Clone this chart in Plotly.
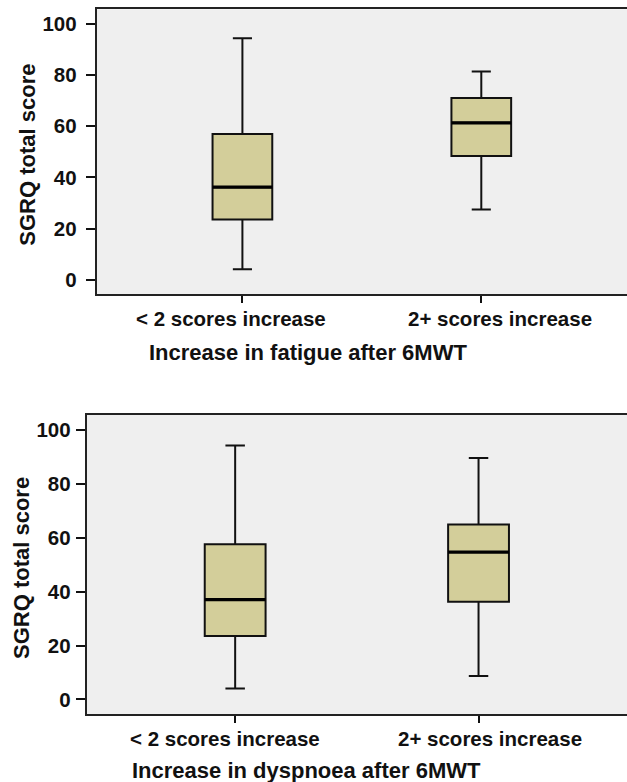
import plotly.graph_objects as go

categories = ["< 2 scores increase", "2+ scores increase"]

# Panel 1: fatigue
fat_low = [4.2, 27.5]
fat_q1 = [23.6, 48.4]
fat_med = [36.2, 61.3]
fat_q3 = [56.9, 71.0]
fat_high = [94.3, 81.3]

# Panel 2: dyspnoea
dys_low = [4.1, 8.7]
dys_q1 = [23.6, 36.3]
dys_med = [37.1, 54.7]
dys_q3 = [57.6, 65.0]
dys_high = [94.3, 89.6]

y_ticks = [0, 20, 40, 60, 80, 100]
x_titles = ["Increase in fatigue after 6MWT", "Increase in dyspnoea after 6MWT"]
y_title = "SGRQ total score"

FILL = "#D3CE9A"
BG = "#EFEFEF"
FONT = "Liberation Sans, Arial, sans-serif"
BOX_W = 0.25
W, H = 627, 782

fig = go.Figure()

panels = [
    (fat_low, fat_q1, fat_med, fat_q3, fat_high, "x", "y"),
    (dys_low, dys_q1, dys_med, dys_q3, dys_high, "x2", "y2"),
]
for low, q1, med, q3, high, xa, ya in panels:
    for i in range(len(categories)):
        fig.add_trace(go.Box(
            x=[i], q1=[q1[i]], median=[med[i]], q3=[q3[i]],
            lowerfence=[low[i]], upperfence=[high[i]],
            width=BOX_W, whiskerwidth=0.32, fillcolor=FILL,
            line=dict(color="#111111", width=2),
            boxpoints=False, showlegend=False, hoverinfo="skip",
            xaxis=xa, yaxis=ya,
        ))
        fig.add_trace(go.Scatter(
            x=[i - BOX_W / 2, i + BOX_W / 2], y=[med[i], med[i]],
            mode="lines", line=dict(color="#000000", width=3.2),
            showlegend=False, hoverinfo="skip", xaxis=xa, yaxis=ya,
        ))

tickfont = dict(family=FONT, size=20.5, color="#111111", weight="bold")
titlefont = dict(family=FONT, size=22, color="#111111", weight="bold")

def xaxis(domain, anchor):
    return dict(
        domain=domain, anchor=anchor, range=[-0.61, 1.61],
        tickmode="array", tickvals=list(range(len(categories))),
        showticklabels=False,
        ticks="outside", ticklen=7, tickwidth=2, tickcolor="#111111",
        showline=True, linecolor="#222222", linewidth=2, mirror=True,
        showgrid=False, zeroline=False, fixedrange=True,
    )

def yaxis(domain, anchor, standoff):
    return dict(
        domain=domain, anchor=anchor, range=[-5.5, 105.6],
        tickmode="array", tickvals=y_ticks,
        ticks="outside", ticklen=9, tickwidth=2, tickcolor="#111111",
        ticklabelstandoff=standoff,
        showline=True, linecolor="#222222", linewidth=2, mirror=False,
        showgrid=False, zeroline=False, tickfont=tickfont, fixedrange=True,
    )

top_dom = [1 - 294 / H, 1 - 9.3 / H]
bot_dom = [1 - 714.3 / H, 1 - 415 / H]

annotations = [
    dict(text=x_titles[0], x=308 / W, y=1 - 353 / H, xref="paper", yref="paper",
         showarrow=False, font=titlefont, xanchor="center", yanchor="middle"),
    dict(text=x_titles[1], x=306 / W, y=1 - 770 / H, xref="paper", yref="paper",
         showarrow=False, font=titlefont, xanchor="center", yanchor="middle"),
    dict(text=y_title, x=26.7 / W, y=1 - 155 / H, xref="paper", yref="paper",
         showarrow=False, font=titlefont, textangle=-90, xanchor="center", yanchor="middle"),
    dict(text=y_title, x=21.5 / W, y=1 - 568.5 / H, xref="paper", yref="paper",
         showarrow=False, font=titlefont, textangle=-90, xanchor="center", yanchor="middle"),
]

# category labels under the ticks (offset as in the original)
label_rows = [("x", 318, [-11.6, 18.8]), ("x2", 738, [-9.7, 11.4])]
for xref, ypix, shifts in label_rows:
    for i, cat in enumerate(categories):
        annotations.append(dict(
            text=cat, x=i, xref=xref, y=1 - ypix / H, yref="paper",
            xshift=shifts[i], showarrow=False, font=tickfont,
            xanchor="center", yanchor="middle",
        ))

fig.update_layout(
    width=W, height=H,
    margin=dict(l=0, r=0, t=0, b=0),
    paper_bgcolor="white", plot_bgcolor=BG,
    xaxis=xaxis([96.7 / W, 1], "y"),
    yaxis=yaxis(top_dom, "x", 5),
    xaxis2=xaxis([86.7 / W, 1], "y2"),
    yaxis2=yaxis(bot_dom, "x2", 1),
    annotations=annotations,
    showlegend=False,
)

fig.write_html(
    "out.html",
    config={"displayModeBar": False},
    post_script="document.body.style.margin='0';document.body.style.overflow='hidden';",
)
